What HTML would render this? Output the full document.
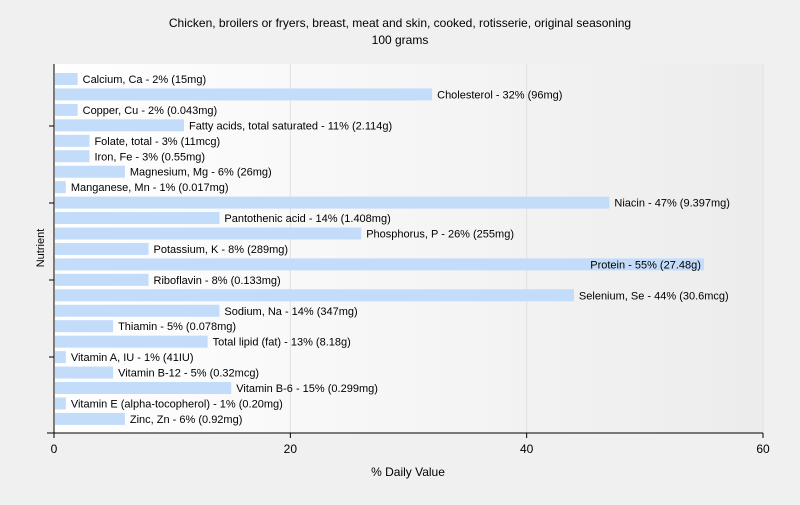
<!DOCTYPE html>
<html><head><meta charset="utf-8"><style>
body{margin:0;background:#f0f0f0;font-family:"Liberation Sans",sans-serif;}
svg text{font-family:"Liberation Sans",sans-serif;}
</style></head><body>
<svg id="c" width="800" height="500">
<defs><linearGradient id="g" x1="0" x2="1" y1="0" y2="0"><stop offset="0" stop-color="#ffffff"/><stop offset="1" stop-color="#ececec"/></linearGradient></defs>
<rect width="800" height="500" fill="#f0f0f0"/>
<text x="400" y="27" text-anchor="middle" font-size="12">Chicken, broilers or fryers, breast, meat and skin, cooked, rotisserie, original seasoning</text>
<text x="400" y="44" text-anchor="middle" font-size="12">100 grams</text>
<rect x="54" y="64" width="709" height="369" fill="url(#g)"/>
<g id="grid"></g><g id="bars"></g><g id="axes"></g>
<text x="408" y="476" text-anchor="middle" font-size="12">% Daily Value</text>
<text transform="translate(44,248) rotate(-90)" text-anchor="middle" font-size="11">Nutrient</text>
</svg>
<script>
const names=["Calcium, Ca","Cholesterol","Copper, Cu","Fatty acids, total saturated","Folate, total","Iron, Fe","Magnesium, Mg","Manganese, Mn","Niacin","Pantothenic acid","Phosphorus, P","Potassium, K","Protein","Riboflavin","Selenium, Se","Sodium, Na","Thiamin","Total lipid (fat)","Vitamin A, IU","Vitamin B-12","Vitamin B-6","Vitamin E (alpha-tocopherol)","Zinc, Zn"];
const values=[2,32,2,11,3,3,6,1,47,14,26,8,55,8,44,14,5,13,1,5,15,1,6];
const amounts=["15mg","96mg","0.043mg","2.114g","11mcg","0.55mg","26mg","0.017mg","9.397mg","1.408mg","255mg","289mg","27.48g","0.133mg","30.6mcg","347mg","0.078mg","8.18g","41IU","0.32mcg","0.299mg","0.20mg","0.92mg"];
const xTicks=[0,20,40,60];
const NS="http://www.w3.org/2000/svg";
const x=v=>54+v*709/60;
const y=i=>79+i*15.45;
function mk(t,a,p){const e=document.createElementNS(NS,t);for(const k in a)e.setAttribute(k,a[k]);p.appendChild(e);return e;}
const grid=document.getElementById('grid'),bars=document.getElementById('bars'),axes=document.getElementById('axes');
xTicks.forEach(t=>{
 if(t>0){const l=mk('line',{x1:x(t),x2:x(t),y1:64,y2:433,stroke:'#e0e0e0'},grid);
 
 }
 const tk=mk('line',{x1:x(t),x2:x(t),y1:433,y2:438,stroke:'#000'},axes);
 
 
 const tx=mk('text',{x:x(t),y:453,'text-anchor':'middle','font-size':12},axes);tx.textContent=t;
 
 
});
names.forEach((n,i)=>{
 const r=mk('rect',{x:55,y:y(i)-6,width:x(values[i])-55,height:12,fill:'#c2dcfa'},bars);
 
 
 const lbl=n+' - '+values[i]+'% ('+amounts[i]+')';
 const t=mk('text',{x:x(values[i])+5,y:y(i)+4,'font-size':11},bars);t.textContent=lbl;
 if(t.getComputedTextLength()+x(values[i])+5>763){t.setAttribute('x',x(values[i])-3);t.setAttribute('text-anchor','end');}
 
 
});
[126,203,280,357].forEach(v=>{const l=mk('line',{x1:49,x2:54,y1:v,y2:v,stroke:'#000'},axes);
 
 });
const ya=mk('line',{x1:54,x2:54,y1:64,y2:433,stroke:'#000'},axes);


const xa=mk('line',{x1:47,x2:763,y1:433,y2:433,stroke:'#000'},axes);


</script>
</body></html>
